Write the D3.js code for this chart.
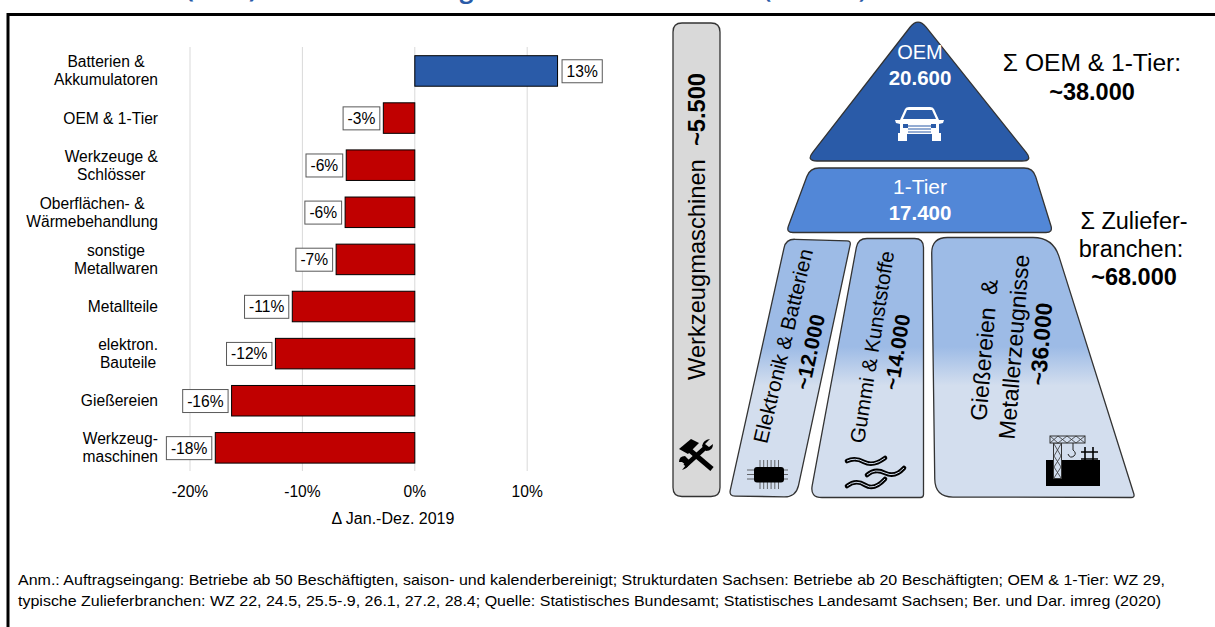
<!DOCTYPE html>
<html><head><meta charset="utf-8">
<script src="https://cdn.jsdelivr.net/npm/d3@7"></script>
<style>
html,body{margin:0;padding:0;background:#fff}
svg{display:block}
text{font-family:"Liberation Sans",Arial,sans-serif;fill:#000}
</style></head><body>
<svg id="c" width="1215" height="627"></svg>
<script>
const categories=[["Batterien &","Akkumulatoren"],["OEM & 1-Tier"],["Werkzeuge &","Schlösser"],["Oberflächen- &","Wärmebehandlung"],["sonstige","Metallwaren"],["Metallteile"],["elektron.","Bauteile"],["Gießereien"],["Werkzeug-","maschinen"]];
const values=[12.7,-2.8,-6.1,-6.2,-7.0,-10.9,-12.4,-16.3,-17.75];
const valueLabels=["13%","-3%","-6%","-6%","-7%","-11%","-12%","-16%","-18%"];
const xTicks=[-20,-10,0,10];
const axisTitle="Δ Jan.-Dez. 2019";
const notes=["Anm.: Auftragseingang: Betriebe ab 50 Beschäftigten, saison- und kalenderbereinigt; Strukturdaten Sachsen: Betriebe ab 20 Beschäftigten; OEM & 1-Tier: WZ 29,",
"typische Zulieferbranchen: WZ 22, 24.5, 25.5-.9, 26.1, 27.2, 28.4; Quelle: Statistisches Bundesamt; Statistisches Landesamt Sachsen; Ber. und Dar. imreg (2020)"];

const svg=d3.select("#c");
const defs=svg.append("defs");
const grad=defs.append("linearGradient").attr("id","lg").attr("gradientUnits","userSpaceOnUse").attr("x1",0).attr("x2",0).attr("y1",238).attr("y2",497);
[[0,"#9DBBE6"],[0.42,"#9DBBE6"],[0.57,"#D3DEEE"],[1,"#D3DEEE"]].forEach(([o,c])=>grad.append("stop").attr("offset",o).attr("stop-color",c));

// clipped headline: only descenders remain visible
const titleBits=[["Automobilindustrie (2019)",257,24],["und Beschäftigte",498,24],["Automobilbranche (Sachsen)",866,21.5]];
svg.selectAll(".tt").data(titleBits).join("text").attr("x",d=>d[1]).attr("y",-2).attr("text-anchor","end")
  .attr("font-size",d=>d[2]).attr("font-weight","bold").style("fill","#2A5BA8").style("font-family","'Open Sans',sans-serif").text(d=>d[0]);

// frame
svg.append("path").attr("d","M8,627V14.5H1215").attr("fill","none").attr("stroke","#000").attr("stroke-width",3);

// chart
const x=d3.scaleLinear().domain([-20,10]).range([190,527.2]);
const y=d3.scaleBand().domain(d3.range(categories.length)).range([47.4,471.4]).paddingInner(0.352).paddingOuter(0.176);
const fs=15.6;
svg.append("g").selectAll("line").data(xTicks).join("line")
  .attr("x1",d=>x(d)).attr("x2",d=>x(d)).attr("y1",47).attr("y2",471).attr("stroke","#D9D9D9").attr("stroke-width",1);
svg.append("g").selectAll("rect").data(values).join("rect")
  .attr("x",d=>Math.min(x(d),x(0))).attr("width",d=>Math.abs(x(d)-x(0)))
  .attr("y",(d,i)=>y(i)).attr("height",y.bandwidth())
  .attr("fill",d=>d>0?"#2A5BA8":"#C00000").attr("stroke","#000").attr("stroke-width",1);
svg.append("g").selectAll("text").data(xTicks).join("text").attr("x",d=>x(d)).attr("y",496.5).attr("text-anchor","middle")
  .attr("font-size",fs).text(d=>d+"%");
svg.append("text").attr("x",393).attr("y",524).attr("text-anchor","middle").attr("font-size",16).text(axisTitle);

// value labels
const vg=svg.append("g");
values.forEach((v,i)=>{
  const cy=y(i)+y.bandwidth()/2+0.3;
  const r=vg.append("rect"), t=vg.append("text").attr("y",cy+5.5).attr("text-anchor","middle").attr("font-size",fs).text(valueLabels[i]);
  const w=t.node().getComputedTextLength()+9;
  const bx=v>0?x(v)+4.5:x(v)-3.5-w;
  t.attr("x",bx+w/2);
  r.attr("x",bx).attr("y",cy-11.5).attr("width",w).attr("height",23).attr("fill","#fff").attr("stroke","#595959").attr("stroke-width",1);
});

// category labels: block right-aligned at x=158, lines centred inside block
const cg=svg.append("g");
categories.forEach((lines,i)=>{
  const cy=y(i)+y.bandwidth()/2;
  const ts=lines.map((l,k)=>cg.append("text").attr("font-size",fs).attr("text-anchor","middle")
    .attr("y",cy+5.5+(k-(lines.length-1)/2)*18).text(l));
  const w=Math.max(...ts.map(t=>t.node().getComputedTextLength()));
  ts.forEach(t=>t.attr("x",158-w/2));
});

// footnote
const noteWidths=[1147,1143];
svg.append("g").selectAll("text").data(notes).join("text").attr("x",18).attr("y",(d,i)=>584.5+i*21).attr("font-size",14.4)
  .attr("textLength",(d,i)=>noteWidths[i]).attr("lengthAdjust","spacingAndGlyphs").text(d=>d);

// pyramid
function rounded(pts,radii){
  const n=pts.length;let s="";
  pts.forEach((p,i)=>{
    const a=pts[(i+n-1)%n],b=pts[(i+1)%n],r=radii[i];
    const d1=Math.hypot(a[0]-p[0],a[1]-p[1]),d2=Math.hypot(b[0]-p[0],b[1]-p[1]);
    const s1=[p[0]+(a[0]-p[0])*r/d1,p[1]+(a[1]-p[1])*r/d1],s2=[p[0]+(b[0]-p[0])*r/d2,p[1]+(b[1]-p[1])*r/d2];
    s+=(i?"L":"M")+s1[0]+","+s1[1]+"Q"+p[0]+","+p[1]+" "+s2[0]+","+s2[1];
  });
  return s+"Z";
}
const shapes=[
 {pts:[[673,23],[720,23],[720,496.5],[673,496.5]],r:[9,9,9,9],fill:"#D9D9D9"},
 {pts:[[918,17],[1033,161],[806,161]],r:[13,11,11],fill:"#2A5BA8"},
 {pts:[[810,168],[1033,168],[1053,232.5],[786,232.5]],r:[9,9,7,7],fill:"#5287D7"},
 {pts:[[786,239],[851,241],[796,497],[729,496]],r:[9,4,12,6],fill:"url(#lg)"},
 {pts:[[858,238.5],[923.5,238.5],[923.5,497.5],[810,497.5]],r:[9,9,3,12],fill:"url(#lg)"},
 {pts:[[931.5,237.5],[1053,237.5],[1135,497.5],[935,497]],r:[16,20,4,18],fill:"url(#lg)"}
];
svg.append("g").selectAll("path").data(shapes).join("path").attr("d",d=>rounded(d.pts,d.r))
 .attr("fill",d=>d.fill).attr("stroke","#333").attr("stroke-width",1.3);

const labels=[
 ["OEM",920,59,20,0,"#fff",0],["20.600",920,85,20.5,1,"#fff",0],
 ["1-Tier",920,194,21,0,"#fff",0],["17.400",920,220,20.5,1,"#fff",0],
 ["Σ OEM & 1-Tier:",1092,71,24.6,0,"#000",0],["~38.000",1092,100,23.5,1,"#000",0],
 ["Σ Zuliefer-",1134,229,23.5,0,"#000",0],["branchen:",1131,257,23.5,0,"#000",0],["~68.000",1134,285,23.5,1,"#000",0],
 ["Elektronik & Batterien",783,346,20.7,0,"#000",-76.6],["~12.000",810,352,21,1,"#000",-78],
 ["Gummi & Kunststoffe",872,347,20.6,0,"#000",-81],["~14.000",897,352,21,1,"#000",-81],
 ["Gießereien  &",984,350,23,0,"#000",-85.4],["Metallerzeugnisse",1014,347,23,0,"#000",-85.4],["~36.000",1041,344,22.8,1,"#000",-85.4]
];
const lg=svg.append("g");
labels.forEach(([t,px,py,sz,b,col,rot])=>{
  lg.append("text").attr("transform",`translate(${px},${py}) rotate(${rot})`).attr("dy",rot?"0.35em":0).attr("text-anchor","middle")
    .attr("font-size",sz).attr("font-weight",b?"bold":"normal").style("fill",col).style("white-space","pre").text(t);
});
const wz=lg.append("text").attr("transform","translate(697,226.5) rotate(-90)").attr("dy","0.35em").attr("text-anchor","middle").attr("font-size",23.7).style("white-space","pre");
wz.append("tspan").text("Werkzeugmaschinen  ");
wz.append("tspan").attr("font-weight","bold").text("~5.500");

// icons
const ic=svg.append("g");
// car
const car=ic.append("g").attr("fill","#fff").attr("stroke","none");
car.append("path").attr("d","M900,120L905,109Q906,107 909,107H930Q933,107 934,109L939,120H944L943,123L939,124V134H900V124L896,123L895,120Z");
car.append("rect").attr("x",898).attr("y",133).attr("width",9).attr("height",8);
car.append("rect").attr("x",932).attr("y",133).attr("width",9).attr("height",8);
car.append("path").attr("d","M903,119L907,110H932L936,119Z").attr("fill","#2A5BA8");
[[125.5],[128.5],[131.5]].forEach(d=>car.append("rect").attr("x",908).attr("y",d[0]).attr("width",23).attr("height",1).attr("fill","#2A5BA8"));
car.append("rect").attr("x",903).attr("y",124).attr("width",5).attr("height",4).attr("fill","#2A5BA8");
car.append("rect").attr("x",931).attr("y",124).attr("width",5).attr("height",4).attr("fill","#2A5BA8");
// tools
const tl=ic.append("g").attr("fill","none").attr("stroke","#000").attr("stroke-linecap","butt");
tl.append("path").attr("d","M686,447L712,469").attr("stroke-width",5);
tl.append("path").attr("d","M679,449L691,439L699,443L688,454Z").attr("fill","#000").attr("stroke","none");
tl.append("path").attr("d","M706,447L685,466").attr("stroke-width",4.5);
tl.append("path").attr("d","M713,444Q713,451 706,451L702,446Q703,440 710,439L705,444L709,447Z").attr("fill","#000").attr("stroke","none");
tl.append("path").attr("d","M679,462Q679,456 685,456L690,461Q689,468 682,470L686,465L682,462Z").attr("fill","#000").attr("stroke","none");
// chip
const ch=ic.append("g");
d3.range(6).forEach(i=>ch.append("line").attr("x1",760+i*3.7).attr("x2",760+i*3.7).attr("y1",460).attr("y2",489).attr("stroke","#444").attr("stroke-width",.8));
[470,474.5,479].forEach(v=>ch.append("line").attr("x1",747).attr("x2",788).attr("y1",v).attr("y2",v).attr("stroke","#444").attr("stroke-width",.8));
ch.append("rect").attr("x",754).attr("y",467).attr("width",30).attr("height",15.5).attr("rx",3).attr("fill","#000");
// waves
["M847,461Q855,457 864,462T885,458","M867,475Q875,468 885,473T904,468","M847,486Q856,479 865,485T885,479"].forEach(d=>{
  ic.append("path").attr("d",d).attr("fill","none").attr("stroke","#000").attr("stroke-width",4.6).attr("stroke-linecap","round");
  ic.append("path").attr("d",d).attr("fill","none").attr("stroke","#D3DEEE").attr("stroke-width",1);
});
// crane
const cr=ic.append("g");
cr.append("rect").attr("x",1046).attr("y",460).attr("width",54).attr("height",26).attr("fill","#000");
const cs={fill:"#D3DEEE",stroke:"#333"};
cr.append("rect").attr("x",1053.5).attr("y",443).attr("width",8).attr("height",35.5).attr("fill",cs.fill).attr("stroke",cs.stroke);
cr.append("rect").attr("x",1050).attr("y",436).attr("width",35).attr("height",7).attr("fill",cs.fill).attr("stroke",cs.stroke);
cr.append("path").attr("d","M1054,444L1061,456L1054,467L1061,478M1061,444L1054,456L1061,467L1054,478M1050,436L1058,443L1067,436L1076,443L1085,436M1050,443L1058,436L1067,443L1076,436L1085,443").attr("fill","none").attr("stroke","#333").attr("stroke-width",.8);
cr.append("path").attr("d","M1073,443V450Q1077,453 1074,456Q1070,459 1068,454").attr("fill","none").attr("stroke","#222").attr("stroke-width",1);
cr.append("path").attr("d","M1085,447V464M1093,447V464M1081,452H1098M1081,459H1098").attr("fill","none").attr("stroke","#000").attr("stroke-width",1.6);
</script>
</body></html>
